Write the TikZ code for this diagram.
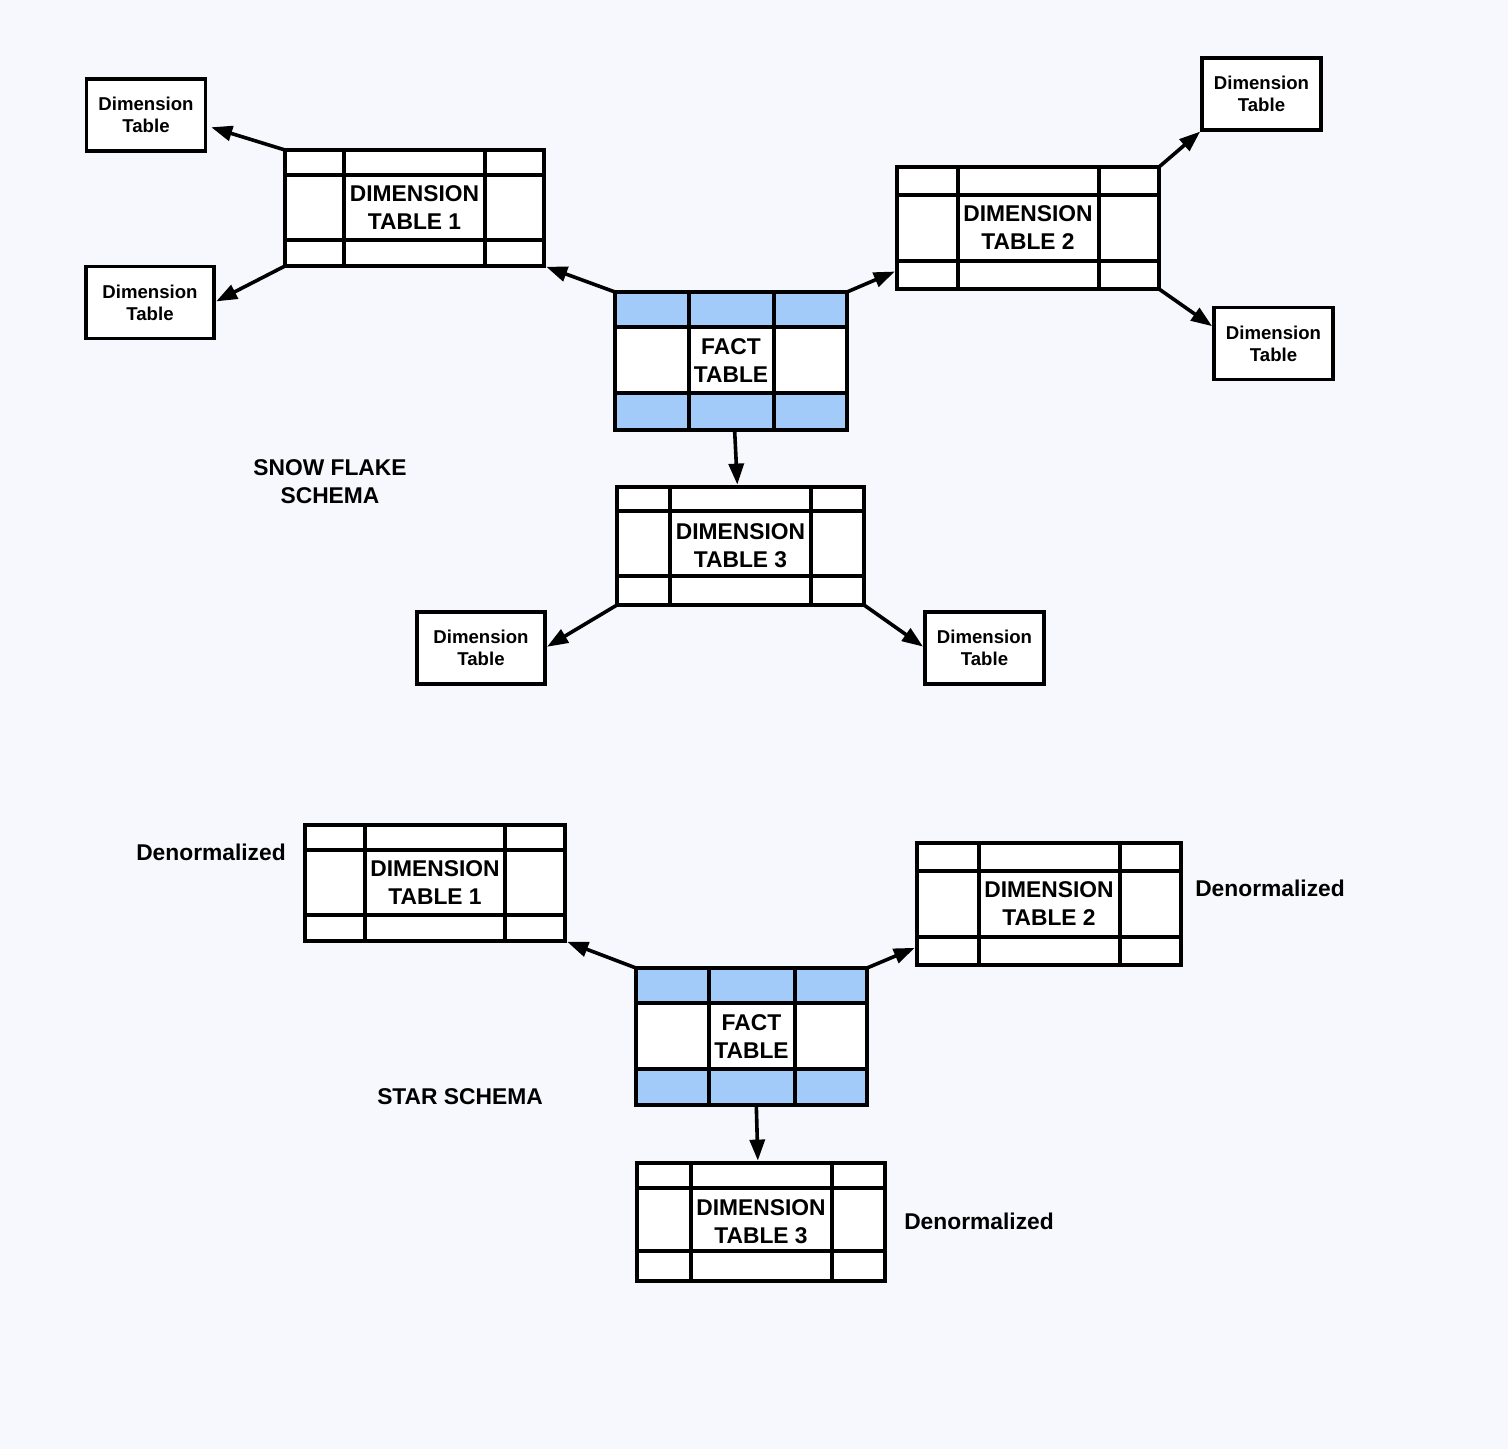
\documentclass[tikz,border=0pt]{standalone}
\usepackage{fontspec}
\setmainfont{Liberation Sans}
\usetikzlibrary{calc,arrows.meta}

\definecolor{pagebg}{RGB}{247,248,253}
\definecolor{factblue}{RGB}{163,203,249}

\begin{document}
\begin{tikzpicture}[x=0.5pt,y=-0.5pt,
  tbl/.style={draw,fill=white,line width=1.8pt,outer sep=0pt,inner sep=0pt,align=center,font=\fontsize{11.4}{14}\selectfont\bfseries},
  dimbox/.style={draw,fill=white,line width=1.6pt,outer sep=0pt,inner sep=0pt,minimum width=59.5pt,minimum height=36pt,align=center,font=\fontsize{9.3}{11}\selectfont\bfseries},
  note/.style={align=center,font=\fontsize{11.4}{14}\selectfont\bfseries},
  link/.style={line width=1.8pt,shorten >=1.2pt,-{Triangle[length=10.5pt,width=7.5pt]}}]

%rows and columns inside a table: name, top, bottom, left, right
\newcommand{\gridlines}[5]{%
  \draw[line width=1.8pt] ($(#1.north west)+(0,#2)$) -- ($(#1.north east)+(0,#2)$)
    ($(#1.south west)+(0,-#3)$) -- ($(#1.south east)+(0,-#3)$)
    ($(#1.north west)+(#4,0)$) -- ($(#1.south west)+(#4,0)$)
    ($(#1.north east)+(-#5,0)$) -- ($(#1.south east)+(-#5,0)$);}
\newcommand{\factbands}[3]{%
  \fill[factblue] (#1.north west) rectangle ($(#1.north east)+(0,#2)$)
    (#1.south west) rectangle ($(#1.south east)+(0,-#3)$);
  \draw[line width=1.8pt] (#1.north west) rectangle (#1.south east);}

\fill[pagebg] (0,0) rectangle (1508,1449);
\useasboundingbox (0,0) rectangle (1508,1449);

% snow flake schema
\node[tbl,minimum width=116pt,minimum height=69pt] (fact) at (731,361) {FACT\\TABLE};
\factbands{fact}{35}{37}
\gridlines{fact}{35}{37}{74}{73}

\node[tbl,minimum width=129.5pt,minimum height=58pt] (dim1) at (414.5,208) {DIMENSION\\TABLE 1};
\gridlines{dim1}{25}{26}{59}{59}
\node[tbl,minimum width=131pt,minimum height=61pt] (dim2) at (1028,228) {DIMENSION\\TABLE 2};
\gridlines{dim2}{28}{28}{61}{60}
\node[tbl,minimum width=123.5pt,minimum height=59pt] (dim3) at (740.5,546) {DIMENSION\\TABLE 3};
\gridlines{dim3}{24}{29}{53}{53}

\node[dimbox] (subA) at (146,115) {Dimension\\Table};
\node[dimbox,minimum width=64pt] (subB) at (150,302.5) {Dimension\\Table};
\node[dimbox] (subC) at (1261.5,94) {Dimension\\Table};
\node[dimbox] (subD) at (1273.5,343.5) {Dimension\\Table};
\node[dimbox,minimum width=64pt] (subE) at (481,648) {Dimension\\Table};
\node[dimbox] (subF) at (984.5,648) {Dimension\\Table};

\draw[link] (fact.north west) -- (dim1.south east);
\draw[link] (fact.north east) -- (dim2.198);
\draw[link] (fact.-87) -- (dim3.93);
\draw[link,shorten >=3pt] (dim1.north west) -- (subA.-10);
\draw[link] (dim1.south west) -- (subB.east);
\draw[link] (dim2.north east) -- (subC.south west);
\draw[link] (dim2.south east) -- (subD.165);
\draw[link] (dim3.south west) -- (subE.east);
\draw[link] (dim3.south east) -- (subF.west);

\node[note] (snowlbl) at (330,482) {SNOW FLAKE\\SCHEMA};

% star schema
\node[tbl,minimum width=115.5pt,minimum height=68.5pt] (starfact) at (751.5,1036.5) {FACT\\TABLE};
\factbands{starfact}{35}{36}
\gridlines{starfact}{35}{36}{73}{72}

\node[tbl,minimum width=130pt,minimum height=58pt] (star1) at (435,883) {DIMENSION\\TABLE 1};
\gridlines{star1}{25}{26}{60}{60}
\node[tbl,minimum width=132pt,minimum height=61pt] (star2) at (1049,904) {DIMENSION\\TABLE 2};
\gridlines{star2}{28}{28}{62}{61}
\node[tbl,minimum width=124pt,minimum height=59pt] (star3) at (761,1222) {DIMENSION\\TABLE 3};
\gridlines{star3}{25}{30}{54}{53}

\draw[link] (starfact.north west) -- (star1.south east);
\draw[link] (starfact.north east) -- (star2.198);
\draw[link] (starfact.-86) -- (star3.93);

\node[note] (denorm1) at (211,852) {Denormalized};
\node[note] (denorm2) at (1270,888) {Denormalized};
\node[note] (denorm3) at (979,1221) {Denormalized};
\node[note] (starlbl) at (460,1097) {STAR SCHEMA};

\end{tikzpicture}
\end{document}
